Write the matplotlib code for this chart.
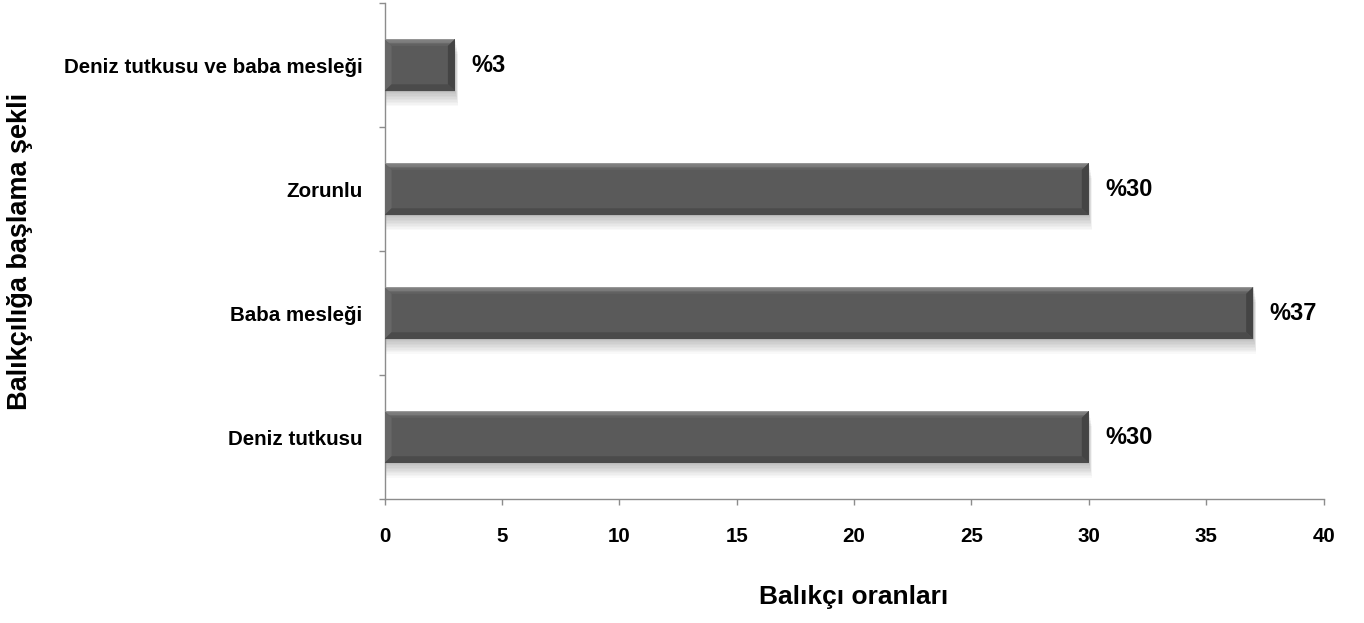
import matplotlib
matplotlib.use('Agg')
import matplotlib.pyplot as plt
from matplotlib.patches import Polygon, Rectangle

categories = ['Deniz tutkusu', 'Baba mesleği', 'Zorunlu', 'Deniz tutkusu ve baba mesleği']
values = [30, 37, 30, 3]
value_labels = ['%' + str(v) for v in values]

plt.rcParams['font.family'] = ['Liberation Sans', 'DejaVu Sans']
plt.rcParams['font.weight'] = 'bold'

axis_grey = '#8c8c8c'

fig = plt.figure(figsize=(13.64, 6.23), dpi=100)
ax = fig.add_axes([0.2819, 0.199, 0.6885, 0.796])

pos = list(range(len(categories)))
bars = ax.barh(pos, values, height=0.42, color='#5a5a5a', edgecolor='none', zorder=3)

# bevel look: light top/left edges, dark right/bottom edges, soft drop shadow
bx, by = 0.3, 0.055
for b in bars:
    x0, y0 = b.get_x(), b.get_y()
    w, h = b.get_width(), b.get_height()
    x1, y1 = x0 + w, y0 + h
    for k in range(10):
        s = 0.012 * (k + 1)
        ax.add_patch(Rectangle((x0 + 0.04, y0 - s), w + 0.01 * k, h,
                               facecolor='#000000', alpha=0.025, edgecolor='none', zorder=2))
    # top bevel as a few strips fading from light to face colour
    steps = ['#9a9a9a', '#8a8a8a', '#7a7a7a', '#6c6c6c', '#626262']
    for i, c in enumerate(steps):
        t0 = by * i / len(steps)
        t1 = by * (i + 1) / len(steps)
        ax.add_patch(Polygon([(x0 + bx * t0 / by, y1 - t0), (x1 - bx * t0 / by, y1 - t0),
                              (x1 - bx * t1 / by, y1 - t1), (x0 + bx * t1 / by, y1 - t1)],
                             facecolor=c, edgecolor='none', zorder=4))
    ax.add_patch(Polygon([(x0, y1), (x0 + bx, y1 - by), (x0 + bx, y0 + by), (x0, y0)],
                         facecolor='#676767', edgecolor='none', zorder=4))
    ax.add_patch(Polygon([(x1, y1), (x1, y0), (x1 - bx, y0 + by), (x1 - bx, y1 - by)],
                         facecolor='#444444', edgecolor='none', zorder=4))
    ax.add_patch(Polygon([(x0, y0), (x1, y0), (x1 - bx, y0 + by), (x0 + bx, y0 + by)],
                         facecolor='#4b4b4b', edgecolor='none', zorder=4))

for b, lab in zip(bars, value_labels):
    ax.annotate(lab, (b.get_width(), b.get_y() + b.get_height() / 2),
                xytext=(12, 0), textcoords='offset points',
                ha='left', va='center', fontsize=17, fontweight='bold')

ax.set_xlim(0, 40)
ax.set_ylim(-0.5, 3.5)
ax.set_xticks(range(0, 41, 5))
ax.set_yticks([p - 0.5 for p in pos] + [len(pos) - 0.5])
ax.set_yticklabels([])
ax.set_yticks(pos, minor=True)
ax.set_yticklabels(categories, minor=True)

ax.tick_params(axis='y', which='minor', length=0, pad=16, labelsize=14.8)
ax.tick_params(axis='y', which='major', length=4.3, width=1, color=axis_grey)
ax.tick_params(axis='x', length=4.3, width=1, color=axis_grey, pad=16, labelsize=14.8)

for side in ['top', 'right']:
    ax.spines[side].set_visible(False)
for side in ['left', 'bottom']:
    ax.spines[side].set_color(axis_grey)
    ax.spines[side].set_linewidth(1)

fig.text(854 / 1364, 1 - 597 / 623, 'Balıkçı oranları', ha='center', va='center',
         fontsize=19, fontweight='bold')
fig.text(20 / 1364, 1 - 251 / 623, 'Balıkçılığa başlama şekli', ha='center', va='center',
         rotation=90, fontsize=19.5, fontweight='bold')

fig.savefig('out.png', dpi=100)
